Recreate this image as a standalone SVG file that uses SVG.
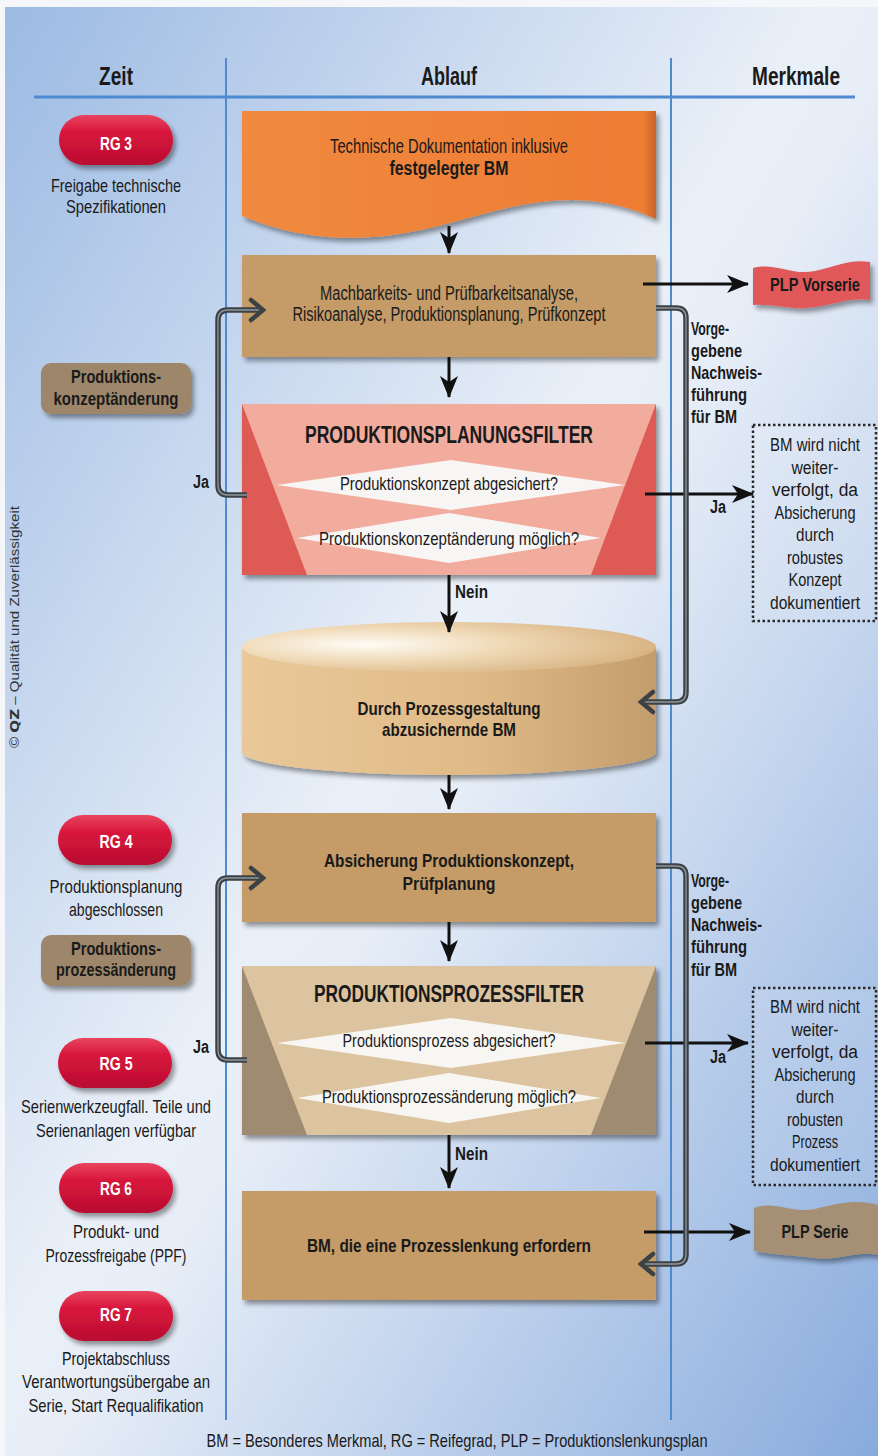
<svg xmlns="http://www.w3.org/2000/svg" width="878" height="1456" viewBox="0 0 878 1456">
<style>
.t{font-family:"Liberation Sans",Arial,sans-serif;fill:#1a1a1a}
.b{font-weight:bold}
.c{text-anchor:middle}
.hd{font-size:25px;font-weight:bold}
.body{font-size:20px}
.bx{font-size:19px;font-weight:bold}
.lc{font-size:18.5px}
.rg{font-size:18px;font-weight:bold;fill:#fff}
.ft{font-size:24px;font-weight:bold}
.q{font-size:18.5px}
.vg{font-size:18.5px;font-weight:bold}
.dt{font-size:18px}
.jn{font-size:17.5px;font-weight:bold}
.lane{stroke:#4E8AD0;stroke-width:2;fill:none}
.arr{stroke:#111;stroke-width:3;fill:none;marker-end:url(#ah)}
.loop{stroke:#3c4145;stroke-width:5.5;fill:none;stroke-linejoin:round}
.loopi{stroke:#8f969c;stroke-width:1.3;fill:none}
.chev{stroke:#3c4145;stroke-width:4.5;fill:none;stroke-linejoin:miter;stroke-linecap:round}
.box{fill:#C59B68}
.lbl{fill:#9D866A}
.pill{fill:url(#red)}
.dot{fill:rgba(255,255,255,0.12);stroke:#2a2a2a;stroke-width:2.5;stroke-dasharray:2.5 2.5}
</style>
<defs>
<linearGradient id="bg" x1="0" y1="0" x2="1" y2="1">
<stop offset="0" stop-color="#9CBAE3"/>
<stop offset="0.47" stop-color="#EAF0F8"/>
<stop offset="0.53" stop-color="#E6EDF7"/>
<stop offset="1" stop-color="#88ABDD"/>
</linearGradient>
<linearGradient id="red" x1="0" y1="0" x2="0" y2="1">
<stop offset="0" stop-color="#E8435E"/>
<stop offset="0.35" stop-color="#D8163D"/>
<stop offset="1" stop-color="#B90D30"/>
</linearGradient>
<linearGradient id="orange" x1="0" y1="0" x2="1" y2="0">
<stop offset="0" stop-color="#F08A40"/>
<stop offset="0.97" stop-color="#EE7B33"/>
<stop offset="1" stop-color="#C8652A"/>
</linearGradient>
<linearGradient id="cylBody" x1="0" y1="0" x2="1" y2="0">
<stop offset="0" stop-color="#E9C899"/>
<stop offset="0.55" stop-color="#E0BB87"/>
<stop offset="1" stop-color="#C49D6C"/>
</linearGradient>
<radialGradient id="cylTop" cx="0.3" cy="0.45" r="0.75">
<stop offset="0" stop-color="#FFFCF6"/>
<stop offset="0.45" stop-color="#EFD9B6"/>
<stop offset="1" stop-color="#D6B07D"/>
</radialGradient>
<filter id="sh" x="-10%" y="-10%" width="125%" height="140%">
<feGaussianBlur in="SourceAlpha" stdDeviation="2.5"/>
<feOffset dx="3" dy="4" result="o"/>
<feComponentTransfer><feFuncA type="linear" slope="0.4"/></feComponentTransfer>
<feMerge><feMergeNode/><feMergeNode in="SourceGraphic"/></feMerge>
</filter>
<marker id="ah" viewBox="0 0 22 18" refX="21" refY="9" markerWidth="22" markerHeight="18" markerUnits="userSpaceOnUse" orient="auto">
<path d="M0,0 L22,9 L0,18 L6,9 Z" fill="#111"/>
</marker>
</defs>

<!-- background -->
<rect x="0" y="0" width="878" height="1456" fill="#F4F6FA"/>
<rect x="5" y="7" width="873" height="1449" fill="url(#bg)"/>

<!-- header and lanes -->
<g id="header">
<line x1="34" y1="97" x2="855" y2="97" stroke="#4E8AD0" stroke-width="3"/>
<line class="lane" x1="226" y1="58" x2="226" y2="1420"/>
<line class="lane" x1="671" y1="58" x2="671" y2="1420"/>
<text class="t hd c" x="116" y="85" textLength="34" lengthAdjust="spacingAndGlyphs">Zeit</text>
<text class="t hd c" x="449" y="85" textLength="56" lengthAdjust="spacingAndGlyphs">Ablauf</text>
<text class="t hd c" x="796" y="85" textLength="88" lengthAdjust="spacingAndGlyphs">Merkmale</text>
</g>

<text class="t" transform="translate(19,748) rotate(-90)" font-size="13" style="fill:#333" textLength="242" lengthAdjust="spacingAndGlyphs">© <tspan font-weight="bold" font-family="'DejaVu Sans',sans-serif">QZ</tspan> – Qualität und Zuverlässigkeit</text>

<!-- Zeit column -->
<g id="rg3">
<rect class="pill" x="59" y="115" width="114" height="50" rx="25" filter="url(#sh)"/>
<text class="t rg c" x="116" y="150" textLength="32" lengthAdjust="spacingAndGlyphs">RG 3</text>
<text class="t lc c" x="116" y="192" textLength="130" lengthAdjust="spacingAndGlyphs">Freigabe technische</text>
<text class="t lc c" x="116" y="213" textLength="100" lengthAdjust="spacingAndGlyphs">Spezifikationen</text>
</g>
<g id="konzeptaenderung">
<rect class="lbl" x="41" y="363" width="150" height="51" rx="10" filter="url(#sh)"/>
<text class="t bx c" x="116" y="383" textLength="90" lengthAdjust="spacingAndGlyphs">Produktions-</text>
<text class="t bx c" x="116" y="405" textLength="125" lengthAdjust="spacingAndGlyphs">konzeptänderung</text>
</g>
<g id="rg4">
<rect class="pill" x="58" y="815" width="114" height="50" rx="25" filter="url(#sh)"/>
<text class="t rg c" x="116" y="848" textLength="33" lengthAdjust="spacingAndGlyphs">RG 4</text>
<text class="t lc c" x="116" y="893" textLength="133" lengthAdjust="spacingAndGlyphs">Produktionsplanung</text>
<text class="t lc c" x="116" y="916" textLength="94" lengthAdjust="spacingAndGlyphs">abgeschlossen</text>
</g>
<g id="prozessaenderung">
<rect class="lbl" x="41" y="935" width="150" height="51" rx="10" filter="url(#sh)"/>
<text class="t bx c" x="116" y="955" textLength="90" lengthAdjust="spacingAndGlyphs">Produktions-</text>
<text class="t bx c" x="116" y="976" textLength="120" lengthAdjust="spacingAndGlyphs">prozessänderung</text>
</g>
<g id="rg5">
<rect class="pill" x="58" y="1038" width="114" height="50" rx="25" filter="url(#sh)"/>
<text class="t rg c" x="116" y="1070" textLength="33" lengthAdjust="spacingAndGlyphs">RG 5</text>
<text class="t lc c" x="116" y="1113" textLength="190" lengthAdjust="spacingAndGlyphs">Serienwerkzeugfall. Teile und</text>
<text class="t lc c" x="116" y="1137" textLength="160" lengthAdjust="spacingAndGlyphs">Serienanlagen verfügbar</text>
</g>
<g id="rg6">
<rect class="pill" x="59" y="1163" width="114" height="50" rx="25" filter="url(#sh)"/>
<text class="t rg c" x="116" y="1195" textLength="32" lengthAdjust="spacingAndGlyphs">RG 6</text>
<text class="t lc c" x="116" y="1238" textLength="86" lengthAdjust="spacingAndGlyphs">Produkt- und</text>
<text class="t lc c" x="116" y="1262" textLength="141" lengthAdjust="spacingAndGlyphs">Prozessfreigabe (PPF)</text>
</g>
<g id="rg7">
<rect class="pill" x="59" y="1291" width="114" height="50" rx="25" filter="url(#sh)"/>
<text class="t rg c" x="116" y="1321" textLength="32" lengthAdjust="spacingAndGlyphs">RG 7</text>
<text class="t lc c" x="116" y="1365" textLength="108" lengthAdjust="spacingAndGlyphs">Projektabschluss</text>
<text class="t lc c" x="116" y="1388" textLength="188" lengthAdjust="spacingAndGlyphs">Verantwortungsübergabe an</text>
<text class="t lc c" x="116" y="1412" textLength="175" lengthAdjust="spacingAndGlyphs">Serie, Start Requalifikation</text>
</g>

<!-- Ablauf column -->
<g id="doc">
<path d="M242,111 L656,111 L656,219 C640,212 612,200 572,200 C505,200 455,228 385,236 C325,242 282,232 242,216 Z" fill="url(#orange)" filter="url(#sh)"/>
<text class="t body c" x="449" y="153" textLength="238" lengthAdjust="spacingAndGlyphs">Technische Dokumentation inklusive</text>
<text class="t body b c" x="449" y="175" textLength="119" lengthAdjust="spacingAndGlyphs">festgelegter BM</text>
</g>
<g id="analyse">
<rect class="box" x="242" y="255" width="414" height="102" filter="url(#sh)"/>
<text class="t body c" x="449" y="300" textLength="258" lengthAdjust="spacingAndGlyphs">Machbarkeits- und Prüfbarkeitsanalyse,</text>
<text class="t body c" x="449" y="321" textLength="313" lengthAdjust="spacingAndGlyphs">Risikoanalyse, Produktionsplanung, Prüfkonzept</text>
</g>
<g id="planungsfilter">
<g filter="url(#sh)">
<rect x="242" y="404" width="414" height="171" fill="#F2AC9E"/>
<polygon points="242,404 242,575 307,575" fill="#DE5A55"/>
<polygon points="656,404 656,575 591,575" fill="#DE5A55"/>
</g>
<polygon points="277,485 451,460 625,485 451,510" fill="#F8F5F5"/>
<polygon points="297,538 449,513 601,538 449,563" fill="#F8F5F5"/>
<text class="t ft c" x="449" y="443" textLength="288" lengthAdjust="spacingAndGlyphs">PRODUKTIONSPLANUNGSFILTER</text>
<text class="t q c" x="449" y="490" textLength="218" lengthAdjust="spacingAndGlyphs">Produktionskonzept abgesichert?</text>
<text class="t q c" x="449" y="545" textLength="260" lengthAdjust="spacingAndGlyphs">Produktionskonzeptänderung möglich?</text>
</g>
<g id="bm-speicher">
<path d="M242,647 L242,752 A207,23 0 0 0 656,752 L656,647 Z" fill="url(#cylBody)" filter="url(#sh)"/>
<ellipse cx="449" cy="647" rx="207" ry="25" fill="url(#cylTop)"/>
<text class="t bx c" x="449" y="715" textLength="183" lengthAdjust="spacingAndGlyphs">Durch Prozessgestaltung</text>
<text class="t bx c" x="449" y="736" textLength="134" lengthAdjust="spacingAndGlyphs">abzusichernde BM</text>
</g>
<g id="absicherung">
<rect class="box" x="242" y="813" width="414" height="109" filter="url(#sh)"/>
<text class="t bx c" x="449" y="867" textLength="250" lengthAdjust="spacingAndGlyphs">Absicherung Produktionskonzept,</text>
<text class="t bx c" x="449" y="890" textLength="93" lengthAdjust="spacingAndGlyphs">Prüfplanung</text>
</g>
<g id="prozessfilter">
<g filter="url(#sh)">
<rect x="242" y="966" width="414" height="169" fill="#DDC4A0"/>
<polygon points="242,966 242,1135 307,1135" fill="#9F8B72"/>
<polygon points="656,966 656,1135 591,1135" fill="#9F8B72"/>
</g>
<polygon points="277,1043 451,1018 625,1043 451,1068" fill="#F8F6F3"/>
<polygon points="297,1098 449,1073 601,1098 449,1123" fill="#F8F6F3"/>
<text class="t ft c" x="449" y="1002" textLength="270" lengthAdjust="spacingAndGlyphs">PRODUKTIONSPROZESSFILTER</text>
<text class="t q c" x="449" y="1047" textLength="213" lengthAdjust="spacingAndGlyphs">Produktionsprozess abgesichert?</text>
<text class="t q c" x="449" y="1103" textLength="254" lengthAdjust="spacingAndGlyphs">Produktionsprozessänderung möglich?</text>
</g>
<g id="prozesslenkung">
<rect class="box" x="242" y="1191" width="414" height="109" filter="url(#sh)"/>
<text class="t bx c" x="449" y="1252" textLength="284" lengthAdjust="spacingAndGlyphs">BM, die eine Prozesslenkung erfordern</text>
</g>

<!-- Merkmale column -->
<g id="plp-vorserie">
<path d="M753,268 C775,262 792,276 815,271 C840,265 852,259 870,262 L870,300 C852,297 840,303 815,307 C792,311 775,303 753,305 Z" fill="#E0585A" filter="url(#sh)"/>
<text class="t vg c" x="815" y="291" textLength="90" lengthAdjust="spacingAndGlyphs">PLP Vorserie</text>
</g>
<g id="nachweis1">
<text class="t vg" x="691" y="335" textLength="38" lengthAdjust="spacingAndGlyphs">Vorge-</text>
<text class="t vg" x="691" y="357" textLength="51" lengthAdjust="spacingAndGlyphs">gebene</text>
<text class="t vg" x="691" y="379" textLength="71" lengthAdjust="spacingAndGlyphs">Nachweis-</text>
<text class="t vg" x="691" y="401" textLength="56" lengthAdjust="spacingAndGlyphs">führung</text>
<text class="t vg" x="691" y="423" textLength="46" lengthAdjust="spacingAndGlyphs">für BM</text>
</g>
<g id="verworfen1">
<rect class="dot" x="753" y="425" width="123" height="196"/>
<text class="t dt c" x="815" y="451" textLength="90" lengthAdjust="spacingAndGlyphs">BM wird nicht</text>
<text class="t dt c" x="815" y="474" textLength="47" lengthAdjust="spacingAndGlyphs">weiter-</text>
<text class="t dt c" x="815" y="496" textLength="86" lengthAdjust="spacingAndGlyphs">verfolgt, da</text>
<text class="t dt c" x="815" y="519" textLength="81" lengthAdjust="spacingAndGlyphs">Absicherung</text>
<text class="t dt c" x="815" y="541" textLength="38" lengthAdjust="spacingAndGlyphs">durch</text>
<text class="t dt c" x="815" y="564" textLength="56" lengthAdjust="spacingAndGlyphs">robustes</text>
<text class="t dt c" x="815" y="586" textLength="53" lengthAdjust="spacingAndGlyphs">Konzept</text>
<text class="t dt c" x="815" y="609" textLength="90" lengthAdjust="spacingAndGlyphs">dokumentiert</text>
</g>
<g id="nachweis2">
<text class="t vg" x="691" y="887" textLength="38" lengthAdjust="spacingAndGlyphs">Vorge-</text>
<text class="t vg" x="691" y="909" textLength="51" lengthAdjust="spacingAndGlyphs">gebene</text>
<text class="t vg" x="691" y="931" textLength="71" lengthAdjust="spacingAndGlyphs">Nachweis-</text>
<text class="t vg" x="691" y="953" textLength="56" lengthAdjust="spacingAndGlyphs">führung</text>
<text class="t vg" x="691" y="976" textLength="46" lengthAdjust="spacingAndGlyphs">für BM</text>
</g>
<g id="verworfen2">
<rect class="dot" x="753" y="988" width="123" height="197"/>
<text class="t dt c" x="815" y="1013" textLength="90" lengthAdjust="spacingAndGlyphs">BM wird nicht</text>
<text class="t dt c" x="815" y="1036" textLength="47" lengthAdjust="spacingAndGlyphs">weiter-</text>
<text class="t dt c" x="815" y="1058" textLength="86" lengthAdjust="spacingAndGlyphs">verfolgt, da</text>
<text class="t dt c" x="815" y="1081" textLength="81" lengthAdjust="spacingAndGlyphs">Absicherung</text>
<text class="t dt c" x="815" y="1103" textLength="38" lengthAdjust="spacingAndGlyphs">durch</text>
<text class="t dt c" x="815" y="1126" textLength="56" lengthAdjust="spacingAndGlyphs">robusten</text>
<text class="t dt c" x="815" y="1148" textLength="46" lengthAdjust="spacingAndGlyphs">Prozess</text>
<text class="t dt c" x="815" y="1171" textLength="90" lengthAdjust="spacingAndGlyphs">dokumentiert</text>
</g>
<g id="plp-serie">
<path d="M754,1208 C775,1200 792,1214 815,1209 C840,1203 856,1199 878,1205 L878,1255 C856,1250 840,1261 815,1258 C792,1255 775,1255 754,1251 Z" fill="#A58F75" filter="url(#sh)"/>
<text class="t vg c" x="815" y="1238" textLength="67" lengthAdjust="spacingAndGlyphs">PLP Serie</text>
</g>

<!-- connectors -->
<g id="connectors">
<line class="arr" x1="449" y1="226" x2="449" y2="253"/>
<line class="arr" x1="449" y1="357" x2="449" y2="397"/>
<line class="arr" x1="449" y1="575" x2="449" y2="632"/>
<line class="arr" x1="449" y1="775" x2="449" y2="809"/>
<line class="arr" x1="449" y1="922" x2="449" y2="961"/>
<line class="arr" x1="449" y1="1135" x2="449" y2="1188"/>
<line class="arr" x1="643" y1="284" x2="748" y2="284"/>
<line class="arr" x1="645" y1="494" x2="753" y2="494"/>
<line class="arr" x1="645" y1="1043" x2="748" y2="1043"/>
<line class="arr" x1="644" y1="1232" x2="750" y2="1232"/>

<path class="loop" d="M247,495 H228 Q218,495 218,485 V320 Q218,310 228,310 H260"/>
<path class="loopi" d="M247,495 H228 Q218,495 218,485 V320 Q218,310 228,310 H260"/>
<polyline class="chev" points="251,300 263,310 251,320"/>

<path class="loop" d="M247,1060 H228 Q218,1060 218,1050 V888 Q218,878 228,878 H260"/>
<path class="loopi" d="M247,1060 H228 Q218,1060 218,1050 V888 Q218,878 228,878 H260"/>
<polyline class="chev" points="251,868 263,878 251,888"/>

<path class="loop" d="M656,308 H676 Q686,308 686,318 V692 Q686,702 676,702 H643"/>
<path class="loopi" d="M656,308 H676 Q686,308 686,318 V692 Q686,702 676,702 H643"/>
<polyline class="chev" points="653,692 641,702 653,712"/>

<path class="loop" d="M656,866 H676 Q686,866 686,876 V1254 Q686,1264 676,1264 H643"/>
<path class="loopi" d="M656,866 H676 Q686,866 686,876 V1254 Q686,1264 676,1264 H643"/>
<polyline class="chev" points="653,1254 641,1264 653,1274"/>

<text class="t jn c" x="201" y="488" textLength="16" lengthAdjust="spacingAndGlyphs">Ja</text>
<text class="t jn c" x="201" y="1053" textLength="16" lengthAdjust="spacingAndGlyphs">Ja</text>
<text class="t jn c" x="718" y="513" textLength="16" lengthAdjust="spacingAndGlyphs">Ja</text>
<text class="t jn c" x="718" y="1063" textLength="16" lengthAdjust="spacingAndGlyphs">Ja</text>
<text class="t jn" x="455" y="598" textLength="33" lengthAdjust="spacingAndGlyphs">Nein</text>
<text class="t jn" x="455" y="1160" textLength="33" lengthAdjust="spacingAndGlyphs">Nein</text>
</g>

<text class="t c" x="457" y="1447" font-size="19" textLength="501" lengthAdjust="spacingAndGlyphs">BM = Besonderes Merkmal, RG = Reifegrad, PLP = Produktionslenkungsplan</text>
</svg>
